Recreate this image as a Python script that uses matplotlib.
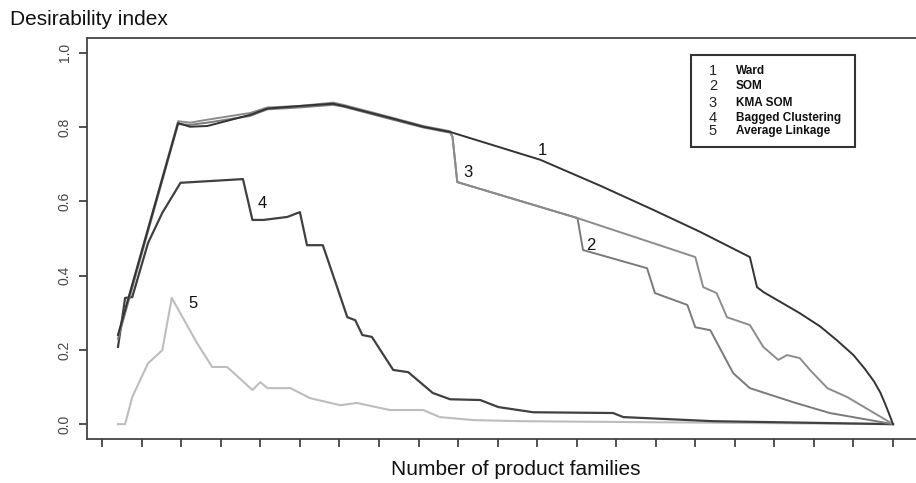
import matplotlib
matplotlib.use("Agg")
import matplotlib.pyplot as plt
from matplotlib.patches import Rectangle

plt.rcParams["font.family"] = ["Liberation Sans", "DejaVu Sans"]

W, H = 916, 483

# ── Data ────────────────────────────────────────────────────────────────────
ward_x = [2, 9.6, 11.1, 13.3, 18.7, 20.9, 25.0, 29.2, 30.5, 36.4, 40.6, 44.0,
          55.4, 63.0, 69.7, 75.6, 81.9, 82.8, 83.6, 88.2, 90.8, 92.9, 95.0,
          96.4, 97.6, 98.4, 99.0, 99.5, 100]
ward_y = [0.24, 0.811, 0.801, 0.803, 0.833, 0.850, 0.857, 0.863, 0.857, 0.825,
          0.801, 0.787, 0.712, 0.642, 0.577, 0.518, 0.450, 0.369, 0.356, 0.299,
          0.263, 0.226, 0.186, 0.150, 0.115, 0.085, 0.055, 0.028, 0.0]

kma_x = [2, 9.6, 11.1, 13.3, 18.7, 20.9, 25.0, 29.2, 30.5, 36.4, 40.6, 44.0,
         44.3, 44.9, 60.1, 75.0, 76.0, 77.7, 79.0, 81.9, 83.6, 85.5, 86.6,
         88.2, 89.5, 91.7, 94.2, 100]
kma_y = [0.24, 0.816, 0.812, 0.820, 0.838, 0.853, 0.857, 0.866, 0.860, 0.827,
         0.803, 0.789, 0.774, 0.652, 0.555, 0.450, 0.369, 0.353, 0.288, 0.267,
         0.208, 0.173, 0.186, 0.178, 0.146, 0.097, 0.073, 0.0]

som_x = [2, 9.6, 11.1, 13.3, 18.7, 20.9, 25.0, 29.2, 30.5, 36.4, 40.6, 44.0,
         44.3, 44.9, 60.1, 60.8, 68.9, 69.9, 74.0, 75.0, 76.9, 79.8, 81.9,
         87.4, 92.0, 100]
som_y = [0.23, 0.808, 0.806, 0.812, 0.830, 0.848, 0.853, 0.860, 0.855, 0.822,
         0.799, 0.785, 0.774, 0.652, 0.555, 0.469, 0.420, 0.353, 0.321, 0.261,
         0.253, 0.137, 0.097, 0.059, 0.030, 0.0]

bag_x = [2, 2.9, 3.8, 5.8, 7.6, 9.9, 17.8, 19.0, 20.4, 23.4, 25.0, 25.9, 27.9,
         31.0, 32.0, 32.9, 34.1, 36.8, 38.7, 41.8, 44.0, 47.8, 50.1, 54.5,
         64.6, 65.9, 77.2, 100]
bag_y = [0.208, 0.340, 0.342, 0.488, 0.569, 0.650, 0.660, 0.550, 0.550, 0.558,
         0.571, 0.482, 0.482, 0.288, 0.280, 0.240, 0.235, 0.146, 0.140, 0.084,
         0.067, 0.065, 0.046, 0.032, 0.030, 0.019, 0.008, 0.0]

avg_x = [2, 2.9, 3.8, 5.8, 7.6, 8.8, 12.0, 13.9, 15.8, 19.0, 20.0, 20.9, 23.8,
         26.3, 30.1, 32.2, 36.4, 40.6, 42.7, 46.9, 52.8, 100]
avg_y = [0.0, 0.0, 0.073, 0.164, 0.199, 0.340, 0.218, 0.154, 0.154, 0.092,
         0.113, 0.097, 0.097, 0.070, 0.051, 0.057, 0.038, 0.038, 0.019, 0.011,
         0.008, 0.0]

curve_tags = ["1", "3", "2", "4", "5"]
tag_x = [55.6, 46.3, 61.8, 20.2, 11.5]
tag_y = [0.736, 0.679, 0.480, 0.593, 0.326]

legend_nums = ["1", "2", "3", "4", "5"]
legend_labels = ["Ward", "SOM", "KMA SOM", "Bagged Clustering", "Average Linkage"]
legend_rows_px = [71, 86, 103, 118, 131]

y_ticks = [0.0, 0.2, 0.4, 0.6, 0.8, 1.0]
x_ticks = list(range(0, 101, 5))

# ── Figure ──────────────────────────────────────────────────────────────────
fig = plt.figure(figsize=(W / 100, H / 100), dpi=100)
ax = fig.add_axes([87 / W, 1 - 439 / H, (924 - 87) / W, (439 - 38) / H])

ax.plot(avg_x, avg_y, color="#bdbdbd", lw=1.5)
ax.plot(bag_x, bag_y, color="#404040", lw=1.6)
ax.plot(som_x, som_y, color="#7a7a7a", lw=1.4)
ax.plot(kma_x, kma_y, color="#8c8c8c", lw=1.4)
ax.plot(ward_x, ward_y, color="#333333", lw=1.4)

for t, x, y in zip(curve_tags, tag_x, tag_y):
    ax.text(x, y, t, ha="center", va="center", fontsize=12, color="#111111")

ax.set_xlim(-1.92, 103.92)
ax.set_ylim(-0.04, 1.04)
ax.set_xticks(x_ticks)
ax.set_xticklabels([])
ax.set_yticks(y_ticks)
ax.set_yticklabels([f"{v:.1f}" for v in y_ticks], rotation=90, va="center",
                   fontsize=10, color="#444444")
ax.tick_params(axis="both", direction="out", length=6, width=1.2,
               color="#333333", pad=5)
for s in ax.spines.values():
    s.set_color("#444444")
    s.set_linewidth(1.3)

fig.text(10 / W, 1 - 25 / H, "Desirability index", fontsize=15,
         va="baseline", ha="left", color="#111111")
fig.text(516 / W, 1 - 475 / H, "Number of product families", fontsize=15,
         va="baseline", ha="center", color="#111111")

# legend box drawn by hand, R style
fig.patches.append(Rectangle((691 / W, 1 - 147 / H), (855 - 691) / W, (147 - 55) / H,
                             transform=fig.transFigure, fill=False,
                             edgecolor="#333333", lw=1.5))
for n, lab, yp in zip(legend_nums, legend_labels, legend_rows_px):
    fig.text(713 / W, 1 - yp / H, n, fontsize=10.5, ha="center", va="center",
             color="#222222")
    fig.text(736 / W, 1 - yp / H, lab, fontsize=8.5, fontweight="bold",
             ha="left", va="center", color="#111111")

fig.savefig("out.png", dpi=100)
